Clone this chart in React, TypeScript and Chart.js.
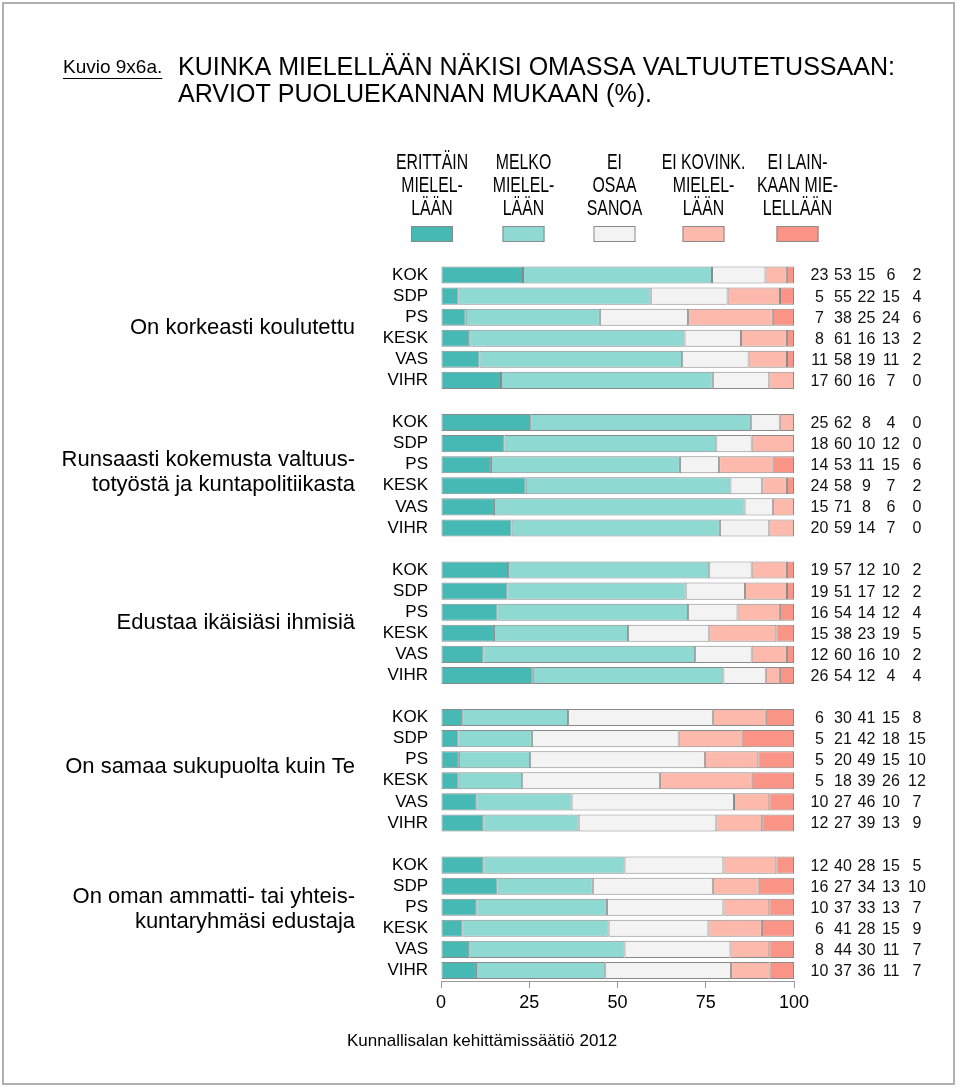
import React, { useEffect, useRef } from 'react';
import { Chart, registerables } from 'chart.js';

Chart.register(...registerables);

const parties = ['KOK', 'SDP', 'PS', 'KESK', 'VAS', 'VIHR'];

const groupLabels: string[][] = [
  ['On korkeasti koulutettu'],
  ['Runsaasti kokemusta valtuus-', 'totyöstä ja kuntapolitiikasta'],
  ['Edustaa ikäisiäsi ihmisiä'],
  ['On samaa sukupuolta kuin Te'],
  ['On oman ammatti- tai yhteis-', 'kuntaryhmäsi edustaja'],
];

const legendLabels: string[][] = [
  ['ERITTÄIN', 'MIELEL-', 'LÄÄN'],
  ['MELKO', 'MIELEL-', 'LÄÄN'],
  ['EI', 'OSAA', 'SANOA'],
  ['EI KOVINK.', 'MIELEL-', 'LÄÄN'],
  ['EI LAIN-', 'KAAN MIE-', 'LELLÄÄN'],
];

const seriesColors = ['#46B9B5', '#8FD9D3', '#F3F3F3', '#FDB9AB', '#FA9486'];

// values per row: 5 groups x 6 parties (KOK, SDP, PS, KESK, VAS, VIHR)
const erittain = [
  23, 5, 7, 8, 11, 17,
  25, 18, 14, 24, 15, 20,
  19, 19, 16, 15, 12, 26,
  6, 5, 5, 5, 10, 12,
  12, 16, 10, 6, 8, 10,
];
const melko = [
  53, 55, 38, 61, 58, 60,
  62, 60, 53, 58, 71, 59,
  57, 51, 54, 38, 60, 54,
  30, 21, 20, 18, 27, 27,
  40, 27, 37, 41, 44, 37,
];
const eiOsaa = [
  15, 22, 25, 16, 19, 16,
  8, 10, 11, 9, 8, 14,
  12, 17, 14, 23, 16, 12,
  41, 42, 49, 39, 46, 39,
  28, 34, 33, 28, 30, 36,
];
const eiKovink = [
  6, 15, 24, 13, 11, 7,
  4, 12, 15, 7, 6, 7,
  10, 12, 12, 19, 10, 4,
  15, 18, 15, 26, 10, 13,
  15, 13, 13, 15, 11, 11,
];
const eiLainkaan = [
  2, 4, 6, 2, 2, 0,
  0, 0, 6, 2, 0, 0,
  2, 2, 4, 5, 2, 4,
  8, 15, 10, 12, 7, 9,
  5, 10, 7, 9, 7, 7,
];

const xTickValues = [0, 25, 50, 75, 100];

const titleKuvio = 'Kuvio 9x6a.';
const titleLines = ['KUINKA MIELELLÄÄN NÄKISI OMASSA VALTUUTETUSSAAN:', 'ARVIOT PUOLUEKANNAN MUKAAN (%).'];
const footerText = 'Kunnallisalan kehittämissäätiö 2012';

const FONT = "'Liberation Sans', Arial, Helvetica, sans-serif";

export default function App() {
  const ref = useRef<HTMLCanvasElement | null>(null);

  useEffect(() => {
    document.body.style.margin = '0';
    const canvas = ref.current;
    if (!canvas) return;

    const series = [erittain, melko, eiOsaa, eiKovink, eiLainkaan];

    const labels: string[] = [];
    const rowIndex: number[] = [];
    groupLabels.forEach((_, gi) => {
      parties.forEach((p, pi) => {
        labels.push(p);
        rowIndex.push(gi * parties.length + pi);
      });
      if (gi < groupLabels.length - 1) {
        labels.push('');
        rowIndex.push(-1);
      }
    });
    const rowSum = (r: number) => series.reduce((a, s) => a + s[r], 0);

    const datasets = series.map((s, si) => ({
      label: legendLabels[si].join(' '),
      data: rowIndex.map((r) => (r < 0 ? null : (s[r] / rowSum(r)) * 100)),
      backgroundColor: seriesColors[si],
      borderColor: '#8a8a8a',
      borderWidth: 1,
      borderSkipped: false as const,
      categoryPercentage: 1,
      barPercentage: 0.81,
    }));

    const condensed = (
      ctx: CanvasRenderingContext2D,
      text: string,
      x: number,
      y: number,
      size: number,
      factor: number,
      align: CanvasTextAlign
    ) => {
      ctx.save();
      ctx.font = `${size}px ${FONT}`;
      ctx.textAlign = align;
      ctx.textBaseline = 'middle';
      ctx.translate(x, y);
      ctx.scale(factor, 1);
      ctx.fillText(text, 0, 0);
      ctx.restore();
    };

    const groupShift = [0, -3, 0, -3, -8];

    const decor = {
      id: 'decor',
      afterDraw(chart: any) {
        const ctx: CanvasRenderingContext2D = chart.ctx;
        const ys = chart.scales.y;
        ctx.save();
        ctx.fillStyle = '#000';

        // frame
        ctx.strokeStyle = '#b0b0b0';
        ctx.lineWidth = 2;
        ctx.strokeRect(3, 3, 951, 1081);

        // title
        ctx.font = `19px ${FONT}`;
        condensed(ctx, titleKuvio, 63, 68, 19, 1, 'left');
        const kw = ctx.measureText(titleKuvio).width;
        ctx.fillStyle = '#000';
        ctx.fillRect(63, 78, kw, 1);
        ctx.font = `26px ${FONT}`;
        const tf = 717 / ctx.measureText(titleLines[0]).width;
        titleLines.forEach((t, i) => condensed(ctx, t, 178, 68 + i * 27, 26, tf, 'left'));

        // legend
        const legendX = [432, 523.5, 614.5, 703.5, 797.5];
        legendLabels.forEach((lines, i) => {
          lines.forEach((l, li) => condensed(ctx, l, legendX[i], 163 + li * 23, 22, 0.72, 'center'));
          ctx.fillStyle = seriesColors[i];
          ctx.fillRect(legendX[i] - 21, 226, 42, 16);
          ctx.strokeStyle = '#8a8a8a';
          ctx.lineWidth = 1;
          ctx.strokeRect(legendX[i] - 21 + 0.5, 226.5, 41, 15);
          ctx.fillStyle = '#000';
        });

        // group labels
        ctx.font = `22px ${FONT}`;
        ctx.textAlign = 'right';
        ctx.textBaseline = 'middle';
        groupLabels.forEach((lines, gi) => {
          const first = rowIndex.indexOf(gi * parties.length);
          const last = rowIndex.indexOf(gi * parties.length + parties.length - 1);
          const cy = (ys.getPixelForValue(first) + ys.getPixelForValue(last)) / 2 + groupShift[gi];
          const lh = 25;
          lines.forEach((l, li) => {
            ctx.fillText(l, 355, cy + (li - (lines.length - 1) / 2) * lh);
          });
        });

        // value columns
        ctx.font = `16px ${FONT}`;
        ctx.textAlign = 'center';
        ctx.fillStyle = '#111';
        const colX = [819.5, 843, 866.5, 891, 917];
        rowIndex.forEach((r, idx) => {
          if (r < 0) return;
          const y = ys.getPixelForValue(idx);
          series.forEach((s, si) => ctx.fillText(String(s[r]), colX[si], y + 1));
        });

        // footer
        ctx.fillStyle = '#000';
        ctx.font = `17px ${FONT}`;
        ctx.textAlign = 'left';
        ctx.fillText(footerText, 347, 1041);

        ctx.restore();
      },
    };

    const chart = new Chart(canvas, {
      type: 'bar',
      data: { labels, datasets: datasets as any },
      options: {
        indexAxis: 'y',
        responsive: false,
        animation: false,
        devicePixelRatio: 1,
        layout: { padding: { left: 0, right: 166, top: 264.5, bottom: 67 } },
        plugins: { legend: { display: false }, tooltip: { enabled: false }, title: { display: false } },
        scales: {
          x: {
            stacked: true,
            min: 0,
            max: 100,
            afterBuildTicks: (scale: any) => {
              scale.ticks = xTickValues.map((v) => ({ value: v }));
            },
            afterFit: (scale: any) => {
              scale.height = 40;
            },
            grid: { display: true, drawOnChartArea: false, drawTicks: true, tickLength: 7, color: '#999' },
            border: { display: true, color: '#999' },
            ticks: { color: '#000', font: { family: FONT, size: 18 }, padding: 4, maxRotation: 0 },
          },
          y: {
            stacked: true,
            afterFit: (scale: any) => {
              scale.width = 441;
            },
            grid: { display: false },
            border: { display: false },
            ticks: { color: '#000', font: { family: FONT, size: 17 }, padding: 5, autoSkip: false },
          },
        },
      },
      plugins: [decor],
    });

    return () => chart.destroy();
  }, []);

  return <canvas ref={ref} width={960} height={1088} style={{ display: 'block' }} />;
}
